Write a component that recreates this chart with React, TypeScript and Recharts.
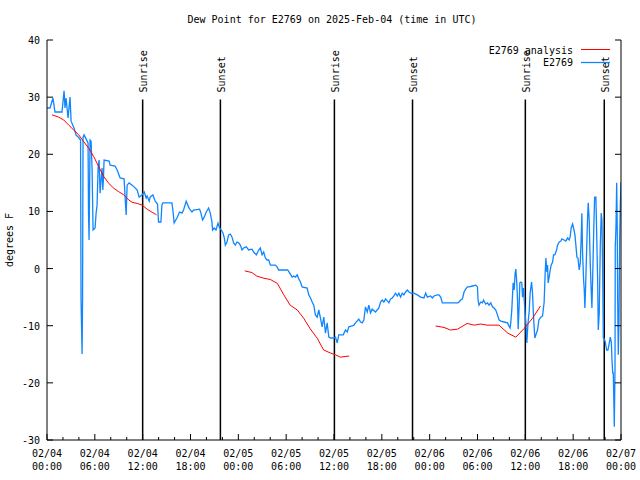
import React from 'react';
import { LineChart, Line, XAxis, YAxis, ReferenceLine } from 'recharts';

const FONT = '"DejaVu Sans Mono", "Liberation Mono", monospace';
const BLUE = '#0f86ff';
const RED = '#ff0000';

// hours since 2025-02-04 00:00 UTC, dew point (F)
const observed: [number, number][] = [
  [0, 28.1], [0.38, 28.1], [0.75, 29.85], [1.0, 27.4], [1.88, 27.4], [2.14, 31.1], [2.26, 28.1], [2.39, 29.85],
  [2.64, 26.35], [2.89, 30.0], [3.02, 25.8], [3.39, 24.6], [3.64, 23.4], [4.02, 22.85], [4.21, 22.5], [4.27, -5.5],
  [4.4, -14.95], [4.46, -5.5], [4.52, 23.0], [4.65, 23.4], [4.9, 22.7], [5.15, 22.0], [5.21, 9.4], [5.28, 5.0],
  [5.4, 22.5], [5.53, 22.3], [5.65, 17.6], [5.78, 6.75], [6.03, 7.1], [6.16, 9.7], [6.28, 11.1], [6.41, 17.6],
  [6.53, 19.0], [6.66, 13.2], [6.78, 15.5], [6.91, 17.6], [7.0, 13.75], [7.07, 15.5], [7.16, 19.0], [7.79, 18.8],
  [7.92, 18.1], [8.54, 17.95], [8.8, 17.25], [9.17, 15.85], [9.67, 15.7], [9.8, 12.35], [9.93, 9.4], [10.05, 14.6],
  [10.3, 15.0], [10.68, 14.6], [10.93, 14.3], [11.31, 13.75], [11.56, 12.5], [11.94, 12.9], [12.19, 13.4], [12.44, 12.35],
  [12.56, 12.7], [12.82, 11.8], [12.94, 12.5], [13.28, 12.9], [13.57, 11.8], [13.86, 11.3], [13.99, 8.15], [14.29, 8.15],
  [14.41, 11.1], [14.54, 11.5], [15.67, 11.5], [15.79, 10.25], [15.95, 8.0], [16.3, 8.85], [16.62, 9.9], [16.93, 9.7],
  [17.13, 10.25], [17.46, 11.8], [17.75, 10.8], [17.97, 10.25], [18.18, 9.9], [18.38, 10.25], [19.14, 10.4], [19.31, 9.7],
  [19.51, 8.5], [19.72, 9.0], [19.98, 9.9], [20.27, 10.6], [20.48, 9.7], [20.69, 8.15], [20.77, 6.75], [20.98, 7.1],
  [21.2, 6.75], [21.45, 7.95], [21.65, 7.1], [21.86, 6.75], [22.08, 6.2], [22.24, 5.35], [22.37, 4.1], [22.58, 4.65],
  [22.78, 5.9], [23.0, 6.05], [23.21, 5.5], [23.41, 4.5], [23.62, 4.1], [23.83, 4.65], [24.04, 4.5], [24.25, 4.1],
  [24.46, 3.25], [24.66, 3.6], [25.0, 3.8], [25.29, 3.25], [25.72, 3.4], [25.92, 2.9], [26.26, 2.4], [26.55, 3.25],
  [26.76, 3.6], [26.98, 2.4], [27.18, 2.9], [27.39, 1.85], [27.6, 1.5], [27.81, 1.5], [28.02, 0.6], [28.65, 0.6],
  [28.86, 0.3], [29.06, -0.25], [30.19, -0.25], [30.45, -0.8], [30.75, -1.5], [30.95, -1.3], [31.16, -1.5], [31.38, -1.1],
  [31.58, -1.8], [31.79, -2.35], [32.0, -3.2], [32.63, -3.4], [32.83, -4.6], [33.05, -5.15], [33.26, -5.85], [33.46, -6.4],
  [33.67, -8.1], [33.89, -8.5], [34.09, -7.25], [34.3, -8.65], [34.51, -10.2], [34.72, -8.5], [34.93, -11.3], [35.14, -9.5],
  [35.35, -12.0], [35.56, -12.15], [35.97, -12.15], [36.19, -12.0], [36.4, -13.0], [36.6, -11.6], [37.16, -11.6], [37.44, -10.75],
  [37.66, -11.1], [37.86, -10.2], [38.29, -10.05], [38.49, -9.9], [38.7, -9.5], [39.11, -8.85], [39.33, -9.35], [39.54, -9.5],
  [39.74, -9.0], [39.95, -6.7], [40.17, -7.6], [40.37, -6.4], [40.58, -7.75], [40.79, -7.1], [41.21, -7.6], [41.63, -6.9],
  [41.84, -5.85], [42.05, -5.5], [42.26, -5.85], [42.47, -5.3], [42.89, -6.0], [43.1, -5.3], [43.31, -5.15], [43.51, -4.8],
  [43.72, -4.3], [43.94, -4.8], [44.14, -4.3], [44.35, -5.0], [44.56, -4.3], [44.76, -4.6], [44.98, -4.1], [45.2, -3.75],
  [45.4, -4.1], [45.61, -4.3], [46.03, -4.3], [46.45, -4.6], [46.87, -5.0], [47.28, -5.15], [47.5, -4.3], [47.71, -5.0],
  [48.12, -4.8], [48.34, -5.15], [48.54, -4.8], [48.97, -4.6], [49.17, -4.6], [49.38, -5.0], [49.59, -6.0], [51.55, -6.0],
  [51.68, -5.85], [51.89, -5.5], [52.11, -5.3], [52.23, -4.6], [52.31, -4.1], [52.52, -3.6], [52.73, -3.2], [52.94, -3.2],
  [53.36, -3.05], [53.78, -2.9], [53.99, -3.2], [54.07, -5.5], [54.19, -6.4], [54.41, -5.85], [54.62, -6.0], [54.75, -5.5],
  [55.03, -6.2], [55.25, -6.0], [55.45, -6.4], [55.66, -6.0], [55.88, -6.7], [56.08, -6.9], [56.29, -7.25], [56.5, -8.1],
  [56.71, -9.0], [56.92, -9.2], [57.33, -9.35], [57.76, -9.5], [57.89, -9.9], [58.09, -10.4], [58.17, -9.5], [58.3, -7.25],
  [58.47, -2.5], [58.6, -3.75], [58.72, -0.8], [58.81, -0.1], [58.93, -2.5], [59.02, -5.5], [59.1, -10.6], [59.22, -6.7],
  [59.31, -2.5], [59.43, -2.35], [59.56, -2.5], [59.65, -5.0], [59.77, -3.4], [59.94, -7.25], [60.1, -10.2], [60.19, -13.0],
  [60.28, -10.75], [60.35, -9.35], [60.48, -7.6], [60.6, -4.3], [60.78, -2.35], [60.9, -4.3], [61.03, -8.5], [61.19, -12.15],
  [61.32, -11.6], [61.53, -10.75], [61.7, -9.0], [61.95, -8.5], [62.16, -8.3], [62.36, -5.85], [62.49, -0.8], [62.58, 1.85],
  [62.7, -0.6], [62.79, 0.6], [62.86, -2.5], [62.99, -1.5], [63.12, -0.25], [63.24, 0.6], [63.42, 1.15], [63.54, 2.4],
  [63.7, 2.4], [63.92, 3.25], [64.04, 4.1], [64.25, 4.65], [64.46, 4.8], [64.58, 5.2], [64.87, 5.0], [65.08, 4.8],
  [65.3, 5.35], [65.5, 5.0], [65.62, 5.55], [65.75, 7.1], [65.93, 7.8], [66.05, 7.1], [66.22, 5.9], [66.34, 4.1],
  [66.47, 2.0], [66.6, 1.85], [66.76, -0.25], [66.89, 1.0], [67.0, 5.0], [67.09, 9.7], [67.18, 2.7], [67.31, -2.0],
  [67.39, -3.75], [67.47, -6.9], [67.56, -3.2], [67.69, 3.25], [67.81, 9.0], [67.89, 11.5], [68.01, 8.5], [68.14, 1.0],
  [68.26, -3.75], [68.35, -6.9], [68.44, -2.0], [68.57, 6.2], [68.69, 12.5], [68.85, 12.5], [68.94, 6.75], [69.07, -2.0],
  [69.15, -10.75], [69.27, -7.75], [69.4, 3.8], [69.52, 9.7], [69.61, 8.5], [69.7, -0.8], [69.78, -12.15], [69.9, -12.3],
  [70.03, -12.85], [70.2, -14.25], [70.36, -14.25], [70.53, -13.0], [70.66, -12.0], [70.79, -13.0], [70.87, -16.0], [70.96, -18.3],
  [71.03, -18.3], [71.12, -24.4], [71.16, -27.7], [71.25, -17.2], [71.28, 3.8], [71.37, 7.3], [71.46, 15.0], [71.53, 6.75],
  [71.58, -5.0], [71.66, -15.1], [71.75, -9.0], [71.83, 5.0], [71.91, 10.8], [72.0, 15.15],
];

// analysis series, null = no analysis available
const analysis: [number, number | null][] = [
  [0.63, 26.9], [1.47, 26.5], [2.1, 26.0], [2.73, 25.1], [3.35, 24.25], [3.98, 23.4], [4.61, 22.2], [5.24, 21.05],
  [5.86, 19.6], [6.5, 17.8], [7.12, 16.1], [7.75, 14.9], [8.38, 14.05], [9.0, 13.45], [9.63, 12.9], [10.26, 12.0],
  [10.68, 11.6], [11.31, 11.4], [11.94, 11.1], [12.56, 10.4], [13.19, 9.85], [13.74, 9.4],
  [18.0, null],
  [24.8, -0.4], [25.7, -0.7], [26.3, -1.3], [27.2, -1.7], [28.0, -1.9], [28.9, -2.6], [29.7, -4.6], [30.5, -6.4],
  [31.4, -7.25], [32.2, -8.7], [33.0, -10.5], [33.9, -12.2], [34.7, -14.25], [35.6, -14.8], [36.2, -15.1], [36.8, -15.5],
  [37.9, -15.3],
  [43.0, null],
  [48.75, -10.05], [49.8, -10.3], [50.6, -10.75], [51.5, -10.6], [52.7, -9.6], [53.6, -9.9], [54.4, -9.7], [55.2, -9.9],
  [56.7, -9.9], [57.8, -11.3], [58.8, -12.0], [59.85, -10.5], [60.9, -8.7], [61.9, -6.55],
];

const sunEvents: { h: number; label: string }[] = [
  { h: 12.0, label: 'Sunrise' },
  { h: 21.75, label: 'Sunset' },
  { h: 36.05, label: 'Sunrise' },
  { h: 45.85, label: 'Sunset' },
  { h: 60.0, label: 'Sunrise' },
  { h: 69.9, label: 'Sunset' },
];
const sunLineTop = 29.6;

const axisTickHours = [0, 2, 4, 6, 8, 10, 12, 14, 16, 18, 20, 22, 24, 26, 28, 30, 32, 34, 36, 38, 40, 42, 44, 46, 48, 50, 52, 54, 56, 58, 60, 62, 64, 66, 68, 70, 72];
const majorTickHours = [0, 6, 12, 18, 24, 30, 36, 42, 48, 54, 60, 66, 72];
const dateLabels = ['02/04', '02/04', '02/04', '02/04', '02/05', '02/05', '02/05', '02/05', '02/06', '02/06', '02/06', '02/06', '02/07'];
const timeLabels = ['00:00', '06:00', '12:00', '18:00', '00:00', '06:00', '12:00', '18:00', '00:00', '06:00', '12:00', '18:00', '00:00'];
const yTicks = [-30, -20, -10, 0, 10, 20, 30, 40];

const obsData = observed.map(([h, v]) => ({ h, v }));
const anaData = analysis.map(([h, v]) => ({ h, v }));

const BottomTick = (p: any) => {
  const { x, y, payload } = p;
  const idx = majorTickHours.indexOf(payload.value);
  const major = idx >= 0;
  return (
    <g>
      <line x1={x} y1={y} x2={x} y2={y - (major ? 6 : 3)} stroke="#000" />
      {major && (
        <text x={x} y={y + 17} textAnchor="middle" fontFamily={FONT} fontSize={10} fill="#000">{dateLabels[idx]}</text>
      )}
      {major && (
        <text x={x} y={y + 30} textAnchor="middle" fontFamily={FONT} fontSize={10} fill="#000">{timeLabels[idx]}</text>
      )}
    </g>
  );
};

const TopTick = (p: any) => {
  const { x, y, payload } = p;
  const major = majorTickHours.indexOf(payload.value) >= 0;
  return <line x1={x} y1={y} x2={x} y2={y + (major ? 6 : 3)} stroke="#000" />;
};

const LeftTick = (p: any) => {
  const { x, y, payload } = p;
  return (
    <g>
      <line x1={x} y1={y} x2={x + 6} y2={y} stroke="#000" />
      <text x={x - 7} y={y + 4} textAnchor="end" fontFamily={FONT} fontSize={10} fill="#000">{payload.value}</text>
    </g>
  );
};

const RightTick = (p: any) => {
  const { x, y } = p;
  return <line x1={x} y1={y} x2={x - 6} y2={y} stroke="#000" />;
};

const SunLabel = (text: string) => (p: any) => {
  const vb = p && p.viewBox;
  if (!vb) return null;
  const x = vb.x + 4.5;
  const y = vb.y - 7;
  return (
    <text transform={`translate(${x},${y}) rotate(-90)`} fontFamily={FONT} fontSize={10} fill="#000">{text}</text>
  );
};

export default function App() {
  return (
    <div style={{ position: 'absolute', left: 0, top: 0, width: 640, height: 480, background: '#fff' }}>
      <LineChart width={640} height={480} margin={{ top: 40, right: 0, bottom: 0, left: 7 }}>
        <XAxis
          xAxisId="bottom"
          dataKey="h"
          type="number"
          domain={[0, 72]}
          allowDataOverflow
          ticks={axisTickHours}
          interval={0}
          tick={BottomTick}
          tickLine={false}
          tickSize={0}
          tickMargin={0}
          height={40}
          axisLine={{ stroke: '#000' }}
        />
        <XAxis
          xAxisId="top"
          orientation="top"
          dataKey="h"
          type="number"
          domain={[0, 72]}
          allowDataOverflow
          ticks={axisTickHours}
          interval={0}
          tick={TopTick}
          tickLine={false}
          tickSize={0}
          tickMargin={0}
          height={0}
          axisLine={{ stroke: '#000' }}
        />
        <YAxis
          yAxisId="left"
          type="number"
          domain={[-30, 40]}
          allowDataOverflow
          ticks={yTicks}
          interval={0}
          tick={LeftTick}
          tickLine={false}
          tickSize={0}
          tickMargin={0}
          width={40}
          axisLine={{ stroke: '#000' }}
        />
        <YAxis
          yAxisId="right"
          orientation="right"
          type="number"
          domain={[-30, 40]}
          allowDataOverflow
          ticks={yTicks}
          interval={0}
          tick={RightTick}
          tickLine={false}
          tickSize={0}
          tickMargin={0}
          width={19}
          axisLine={{ stroke: '#000' }}
        />
        {sunEvents.map((s, i) => (
          <ReferenceLine
            key={i}
            xAxisId="bottom"
            yAxisId="left"
            segment={[{ x: s.h, y: -30 }, { x: s.h, y: sunLineTop }]}
            stroke="#000"
            strokeWidth={1.5}
            label={SunLabel(s.label)}
          />
        ))}
        <Line
          xAxisId="bottom"
          yAxisId="left"
          data={obsData}
          dataKey="v"
          type="linear"
          stroke={BLUE}
          strokeWidth={1.3}
          dot={false}
          isAnimationActive={false}
        />
        <Line
          xAxisId="bottom"
          yAxisId="left"
          data={anaData}
          dataKey="v"
          type="linear"
          stroke={RED}
          strokeWidth={1}
          dot={false}
          connectNulls={false}
          isAnimationActive={false}
        />
      </LineChart>
      <svg width={640} height={480} style={{ position: 'absolute', left: 0, top: 0, pointerEvents: 'none' }}>
        <text x={332} y={23} textAnchor="middle" fontFamily={FONT} fontSize={10} fill="#000">
          Dew Point for E2769 on 2025-Feb-04 (time in UTC)
        </text>
        <text transform="translate(13,240) rotate(-90)" textAnchor="middle" fontFamily={FONT} fontSize={10} fill="#000">
          degrees F
        </text>
        <text x={573} y={53.5} textAnchor="end" fontFamily={FONT} fontSize={10} fill="#000">E2769 analysis</text>
        <line x1={581} y1={49.5} x2={610} y2={49.5} stroke={RED} strokeWidth={1} />
        <text x={573} y={66} textAnchor="end" fontFamily={FONT} fontSize={10} fill="#000">E2769</text>
        <line x1={581} y1={62.5} x2={610} y2={62.5} stroke={BLUE} strokeWidth={1.3} />
      </svg>
    </div>
  );
}
